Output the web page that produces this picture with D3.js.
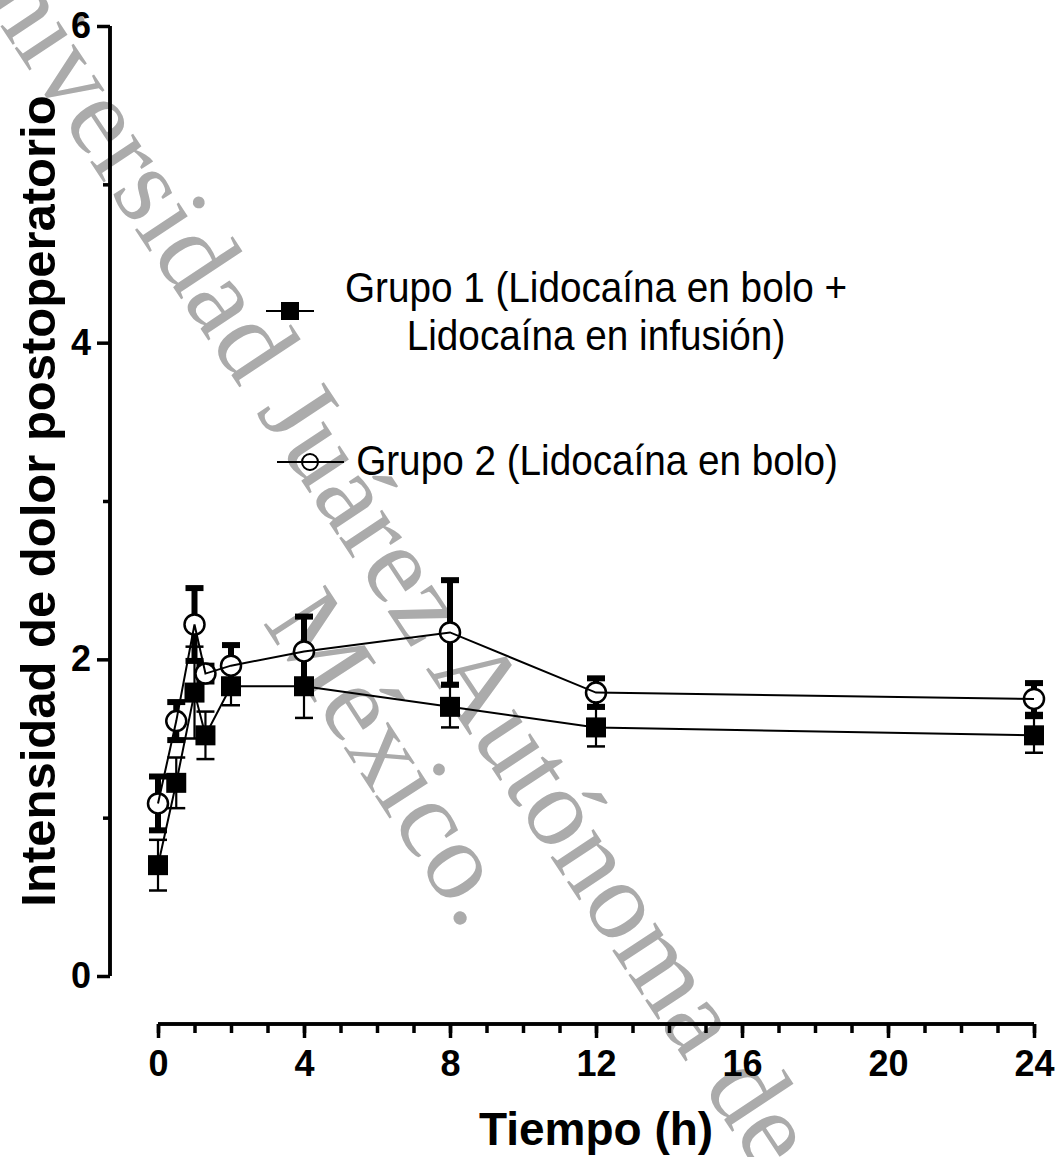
<!DOCTYPE html>
<html>
<head>
<meta charset="utf-8">
<script src="https://cdn.jsdelivr.net/npm/d3@7/dist/d3.min.js"></script>
<style>
  html, body { margin: 0; padding: 0; background: #fff; }
  svg { display: block; font-family: "Liberation Sans", Arial, sans-serif; }
</style>
</head>
<body>
<svg id="chart" width="1060" height="1157"></svg>
<script>
// ---- data ----
const times = [0, 0.5, 1, 1.3, 2, 4, 8, 12, 24];
const group1Mean = [0.70, 1.22, 1.79, 1.52, 1.83, 1.83, 1.70, 1.57, 1.52];
const group1Err  = [0.16, 0.16, 0.29, 0.15, 0.12, 0.20, 0.13, 0.12, 0.11];
const group2Mean = [1.09, 1.61, 2.22, 1.91, 1.96, 2.05, 2.17, 1.79, 1.75];
const group2Err  = [0.17, 0.12, 0.23, 0.05, 0.13, 0.22, 0.33, 0.09, 0.10];
const xMajorTicks = [0, 4, 8, 12, 16, 20, 24];
const xMinorTicks = d3.range(0, 25, 1);
const yMajorTicks = [0, 2, 4, 6];
const yMinorTicks = [1, 3, 5];
const legendLabels = [["Grupo 1 (Lidocaína en bolo +", "Lidocaína en infusión)"], ["Grupo 2 (Lidocaína en bolo)"]];
const xTitle = "Tiempo (h)";
const yTitle = "Intensidad de dolor postoperatorio";
const watermarkLines = ["Universidad Juárez Autónoma de", "México."];

const svg = d3.select("#chart");
const x = d3.scaleLinear().domain([0, 24]).range([158, 1034]);
const y = d3.scaleLinear().domain([0, 6]).range([976, 26]);

// ---- watermark (under the data) ----
const wm = svg.append("g");
function wmText(tr, s) {
  wm.append("text").attr("transform", tr)
    .style("font-family", "'Liberation Serif', 'DejaVu Serif', serif")
    .style("font-size", "112px").attr("fill", "#ababab").text(s);
}
wmText("translate(-62,-68) rotate(56.5)", watermarkLines[0]);
wmText("translate(262,622) rotate(57)", watermarkLines[1]);

// ---- axes ----
const yAxisMinor = d3.axisLeft(y).tickValues(yMinorTicks).tickSize(7).tickFormat("");
const yAxisMajor = d3.axisLeft(y).tickValues(yMajorTicks).tickSize(13).tickPadding(6).tickFormat(d3.format("d"));
const gyMinor = svg.append("g").attr("transform", "translate(110,0)").call(yAxisMinor);
const gy = svg.append("g").attr("transform", "translate(110,0)").call(yAxisMajor);
[gy, gyMinor].forEach(g => {
  g.select(".domain").attr("stroke", "#000").attr("stroke-width", 3.5).attr("d", `M0,${y(6)}V${y(0)}`);
  g.selectAll(".tick line").attr("stroke", "#000").attr("stroke-width", 3.5);
});
gy.selectAll(".tick text").attr("fill", "#000").attr("font-family", null).attr("font-size", null)
  .style("font-size", "36px").style("font-weight", "bold");

const xAxisMinor = d3.axisBottom(x).tickValues(xMinorTicks).tickSize(9).tickFormat("");
const xAxisMajor = d3.axisBottom(x).tickValues(xMajorTicks).tickSize(14).tickPadding(12).tickFormat(d3.format("d"));
const gxMinor = svg.append("g").attr("transform", "translate(0,1024)").call(xAxisMinor);
const gx = svg.append("g").attr("transform", "translate(0,1024)").call(xAxisMajor);
[gx, gxMinor].forEach(g => {
  g.select(".domain").attr("stroke", "#000").attr("stroke-width", 3.5).attr("d", `M${x(0)},0H${x(24)}`);
  g.selectAll(".tick line").attr("stroke", "#000").attr("stroke-width", 3.5);
});
gx.selectAll(".tick text").attr("fill", "#000").attr("font-family", null).attr("font-size", null)
  .style("font-size", "36px").style("font-weight", "bold");

// axis titles
svg.append("text").attr("x", 596).attr("y", 1145).attr("text-anchor", "middle")
  .style("font-size", "46px").style("font-weight", "bold").text(xTitle);
svg.append("text").attr("transform", "translate(55,501) rotate(-90)").attr("text-anchor", "middle")
  .style("font-size", "49px").style("font-weight", "bold").text(yTitle);

// ---- series ----
const d1 = times.map((t, i) => ({ t, m: group1Mean[i], e: group1Err[i] }));
const d2 = times.map((t, i) => ({ t, m: group2Mean[i], e: group2Err[i] }));
const capW = 9;

function errorBars(data, sw, capH) {
  const g = svg.append("g").attr("stroke", "#000").attr("fill", "none");
  data.forEach(d => {
    g.append("line").attr("x1", x(d.t)).attr("x2", x(d.t)).attr("y1", y(d.m + d.e)).attr("y2", y(d.m - d.e))
      .attr("stroke-width", sw);
    [d.m + d.e, d.m - d.e].forEach(v => {
      g.append("line").attr("x1", x(d.t) - capW).attr("x2", x(d.t) + capW)
        .attr("y1", y(v)).attr("y2", y(v)).attr("stroke-width", capH);
    });
  });
}
errorBars(d2, 6, 6);
errorBars(d1, 2.2, 2.5);

const line = d3.line().x(d => x(d.t)).y(d => y(d.m));

svg.append("g").selectAll("rect").data(d1).join("rect")
  .attr("x", d => x(d.t) - 10).attr("y", d => y(d.m) - 10).attr("width", 20).attr("height", 20).attr("fill", "#000");
svg.append("g").selectAll("circle").data(d2).join("circle")
  .attr("cx", d => x(d.t)).attr("cy", d => y(d.m)).attr("r", 10)
  .attr("fill", "#fff").attr("stroke", "#000").attr("stroke-width", 2.5);

svg.append("path").datum(d1).attr("d", line).attr("fill", "none").attr("stroke", "#000").attr("stroke-width", 2);
svg.append("path").datum(d2).attr("d", line).attr("fill", "none").attr("stroke", "#000").attr("stroke-width", 2);

// ---- legend ----
const lg = svg.append("g");
lg.append("line").attr("x1", 266).attr("x2", 314).attr("y1", 311).attr("y2", 311).attr("stroke", "#000").attr("stroke-width", 2);
lg.append("rect").attr("x", 281).attr("y", 302).attr("width", 18).attr("height", 18).attr("fill", "#000");
lg.append("circle").attr("cx", 310).attr("cy", 462).attr("r", 8).attr("fill", "#fff").attr("stroke", "#000").attr("stroke-width", 2);
lg.append("line").attr("x1", 277).attr("x2", 344).attr("y1", 462).attr("y2", 462).attr("stroke", "#000").attr("stroke-width", 2);

function legendText(cx, by, s) {
  lg.append("text").attr("transform", `translate(${cx},${by}) scale(0.9,1)`)
    .attr("text-anchor", "middle").style("font-size", "43px").attr("fill", "#000").text(s);
}
legendText(596, 302, legendLabels[0][0]);
legendText(596, 350, legendLabels[0][1]);
legendText(597, 475, legendLabels[1][0]);
</script>
</body>
</html>
